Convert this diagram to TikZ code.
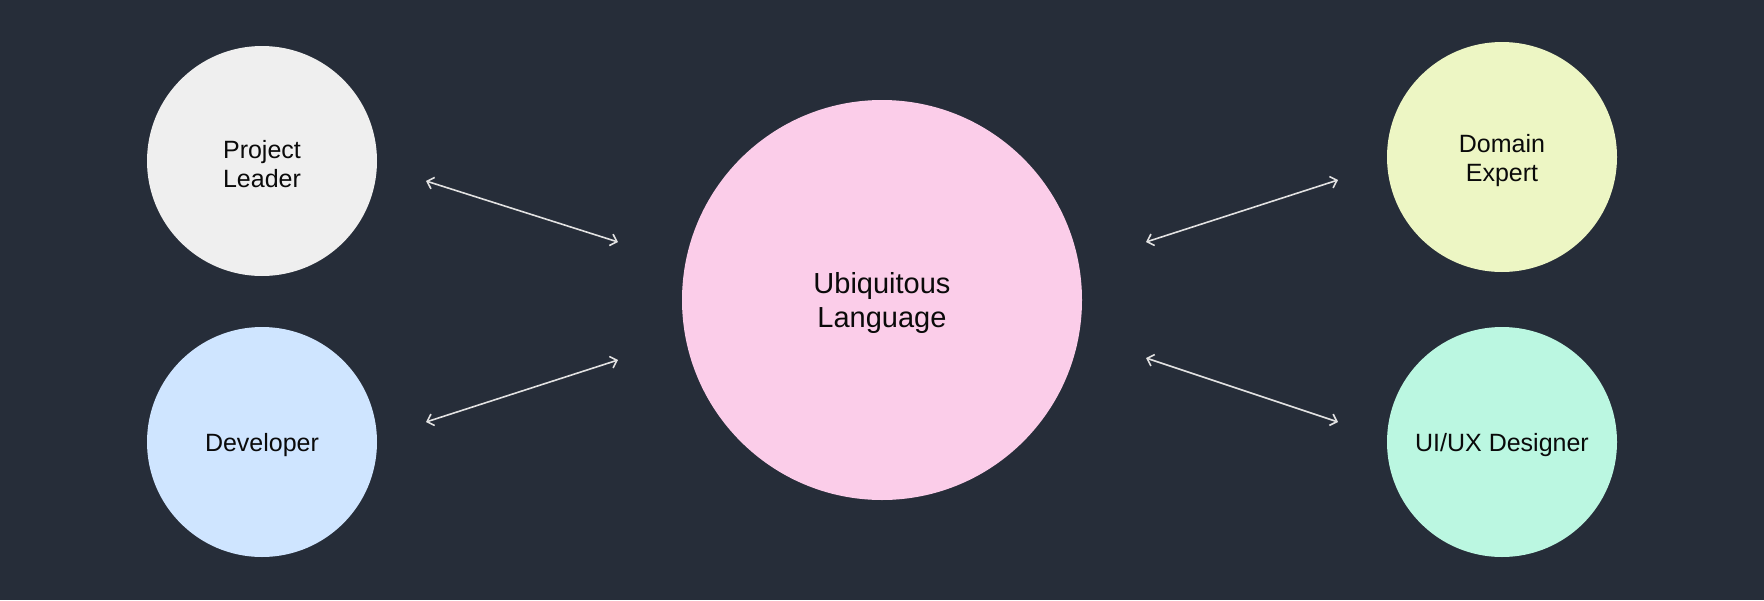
\documentclass[tikz,border=0pt]{standalone}
\usepackage{fontspec}
\setmainfont{Liberation Sans}
\usetikzlibrary{arrows.meta}
\definecolor{bgdark}{HTML}{262D39}
\definecolor{leaderfill}{HTML}{EFEFEF}
\definecolor{devfill}{HTML}{CFE5FF}
\definecolor{langfill}{HTML}{FBCDE9}
\definecolor{domainfill}{HTML}{EDF6C4}
\definecolor{uxfill}{HTML}{BBF7E1}
\definecolor{linkcol}{HTML}{E2E2E2}
\definecolor{inkcol}{HTML}{0A0A0A}
\begin{document}
\begin{tikzpicture}[x=1pt,y=-1pt,
  role/.style={circle,draw=none,minimum size=230pt,inner sep=0pt,align=center,
    text=inkcol,text height=25pt,font=\fontsize{25}{29}\selectfont},
  tworole/.style={role,text height=54pt},
  hub/.style={circle,draw=none,minimum size=400pt,inner sep=0pt,align=center,
    text=inkcol,text height=62pt,font=\fontsize{29}{34}\selectfont},
  link/.style={draw=linkcol,line width=1.6pt,
    {Straight Barb[length=6pt,width=12pt]}-{Straight Barb[length=6pt,width=12pt]}}]
  % canvas
  \fill[bgdark] (0,0) rectangle (1764,600);
  \useasboundingbox (0,0) rectangle (1764,600);

  % circles
  \node[tworole,fill=leaderfill] (leader) at (262,161) {Project\\Leader};
  \node[role,fill=devfill] (dev) at (262,442) {Developer};
  \node[hub,fill=langfill] (lang) at (882,300) {Ubiquitous\\Language};
  \node[tworole,fill=domainfill] (domain) at (1502,157) {Domain\\Expert};
  \node[role,fill=uxfill] (ux) at (1502,442) {UI/UX Designer};

  % arrow end points
  \coordinate (leaderA) at (426,181);
  \coordinate (leaderB) at (618,242);
  \coordinate (devA) at (426,422);
  \coordinate (devB) at (618,360);
  \coordinate (domainA) at (1146,242);
  \coordinate (domainB) at (1338,180);
  \coordinate (uxA) at (1146,358);
  \coordinate (uxB) at (1338,422);

  % connectors
  \draw[link] (leaderA) -- (leaderB);
  \draw[link] (devA) -- (devB);
  \draw[link] (domainA) -- (domainB);
  \draw[link] (uxA) -- (uxB);
\end{tikzpicture}
\end{document}
